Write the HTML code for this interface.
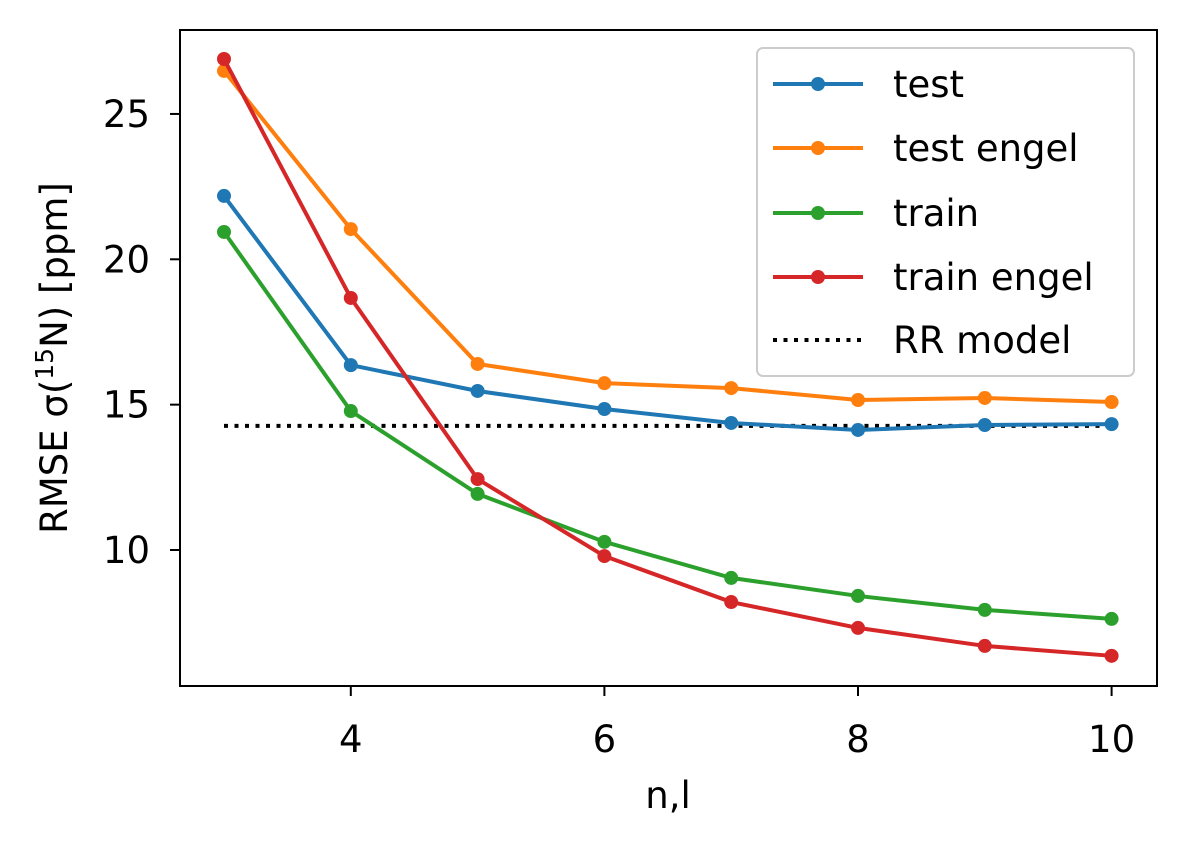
<!DOCTYPE html>
<html><head><meta charset="utf-8"><style>
body{margin:0;background:#fff;}
svg{display:block;font-family:"DejaVu Sans","Liberation Sans",sans-serif;}
</style></head><body>
<svg id="c" width="1186" height="846"></svg>
<script>
const xs=[3,4,5,6,7,8,9,10];
const testVals=[22.18,16.36,15.47,14.85,14.37,14.13,14.3,14.33];
const testEngelVals=[26.48,21.04,16.40,15.74,15.57,15.16,15.23,15.09];
const trainVals=[20.94,14.78,11.93,10.28,9.04,8.42,7.94,7.63];
const trainEngelVals=[26.89,18.67,12.44,9.79,8.21,7.32,6.70,6.36];
const rrVal=14.27;
const xTicks=[4,6,8,10];
const yTicks=[10,15,20,25];
const seriesNames=["test","test engel","train","train engel"];
const colors=["#1f77b4","#ff7f0e","#2ca02c","#d62728"];
const NS="http://www.w3.org/2000/svg";
const svg=document.getElementById('c');
const X=v=>224+(v-3)*126.8;
const Y=v=>840.7-v*29.07;
const FS=37;
function mk(t,a,p){const e=document.createElementNS(NS,t);for(const k in a)e.setAttribute(k,a[k]);(p||svg).appendChild(e);return e;}
let fr=mk('rect',{x:180,y:30,width:977,height:656,fill:'none',stroke:'#000','stroke-width':2});


xTicks.forEach(t=>{
 let l=mk('line',{x1:X(t),x2:X(t),y1:686,y2:696,stroke:'#000','stroke-width':2});
 
 
 let tx=mk('text',{x:X(t),y:752,'font-size':FS,'text-anchor':'middle'});tx.textContent=t;
 
 
});
yTicks.forEach(t=>{
 let l=mk('line',{x1:170,x2:180,y1:Y(t),y2:Y(t),stroke:'#000','stroke-width':2});
 
 
 let tx=mk('text',{x:150,y:Y(t)+13,'font-size':FS,'text-anchor':'end'});tx.textContent=t;
 
 
});
let xl=mk('text',{x:668,y:808,'font-size':FS,'text-anchor':'middle'});xl.textContent='n,l';


let yl=mk('text',{x:67,y:358,'font-size':FS,'text-anchor':'middle',transform:'rotate(-90 67 358)'});
yl.innerHTML='RMSE σ(<tspan font-size="25" dy="-14">15</tspan><tspan dy="14">N) [ppm]</tspan>';


let rr=mk('line',{x1:X(3),x2:X(10),y1:Y(rrVal),y2:Y(rrVal),stroke:'#000','stroke-width':4,'stroke-dasharray':'4 6.5'});


[testVals,testEngelVals,trainVals,trainEngelVals].forEach((vals,i)=>{
 const g=mk('g',{});
 
 
 mk('polyline',{points:xs.map((x,j)=>X(x)+','+Y(vals[j])).join(' '),fill:'none',stroke:colors[i],'stroke-width':4},g);
 xs.forEach((x,j)=>{let c=mk('circle',{cx:X(x),cy:Y(vals[j]),r:7,fill:colors[i]},g);
  
  });
});
const lg=mk('g',{});


mk('rect',{x:757,y:48,width:377,height:328,rx:6,fill:'#fff','fill-opacity':0.8,stroke:'#ccc','stroke-width':2},lg);
const ly=[84,148,213,277,340];
seriesNames.concat(['RR model']).forEach((n,i)=>{
 const e=mk('g',{},lg);
 
 
 if(i<4){mk('line',{x1:773,x2:863,y1:ly[i],y2:ly[i],stroke:colors[i],'stroke-width':4},e);
  mk('circle',{cx:818,cy:ly[i],r:7,fill:colors[i]},e);}
 else mk('line',{x1:773,x2:863,y1:ly[i],y2:ly[i],stroke:'#000','stroke-width':4,'stroke-dasharray':'4 6.5'},e);
 const t=mk('text',{x:893,y:ly[i]+13,'font-size':FS},e);t.textContent=n;
});
</script>
</body></html>
